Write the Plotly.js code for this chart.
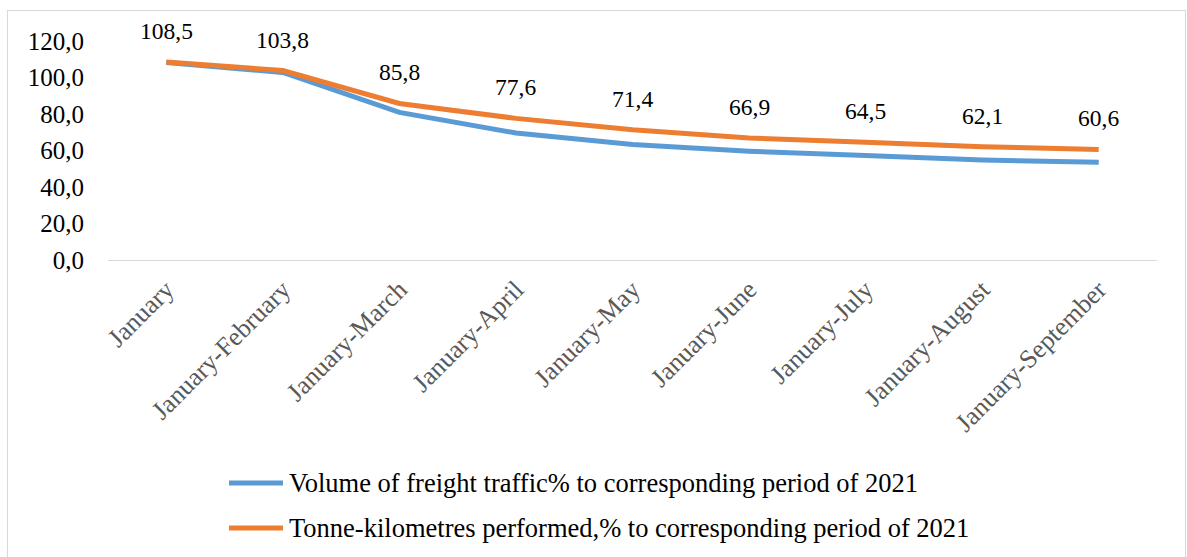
<!DOCTYPE html>
<html>
<head>
<meta charset="utf-8">
<script src="https://cdn.plot.ly/plotly-3.0.1.min.js"></script>
<style>
html,body{margin:0;padding:0;background:#fff;}
#wrap{position:relative;width:1187px;height:557px;}
#chart{width:1187px;height:557px;}
#frame{position:absolute;left:7px;top:10px;width:1177px;height:560px;border:1px solid #d9d9d9;pointer-events:none;}
</style>
</head>
<body>
<div id="wrap"><div id="chart"></div><div id="frame"></div></div>
<script>
const categories = ["January","January-February","January-March","January-April","January-May","January-June","January-July","January-August","January-September"];
const freightVolume = [108.2, 102.8, 80.9, 69.6, 63.3, 59.6, 57.2, 54.8, 53.5];
const tonneKm = [108.5, 103.8, 85.8, 77.6, 71.4, 66.9, 64.5, 62.1, 60.6];
const seriesNames = ["Volume of freight traffic% to corresponding period of 2021", "Tonne-kilometres performed,% to corresponding period of 2021"];
const seriesColors = ['#5B9BD5', '#ED7D31'];
const tonneKmLabels = tonneKm.map(v => v.toFixed(1).replace('.', ','));

const FONT = 'Liberation Serif';
const W = 1187, H = 557;
const M = {l: 108, r: 30, t: 41, b: 297};
const PW = W - M.l - M.r, PH = H - M.t - M.b;
// pixel -> paper helpers for the hand-drawn legend
const px = x => (x - M.l) / PW;
const py = y => (H - M.b - y) / PH;

const traces = [freightVolume, tonneKm].map((vals, i) => ({
  x: categories, y: vals, name: seriesNames[i], type: 'scatter', mode: 'lines',
  line: {color: seriesColors[i], width: 5}, hoverinfo: 'skip', showlegend: false
}));

const annotations = categories.map((c, i) => ({
  x: c, y: tonneKm[i], text: tonneKmLabels[i], showarrow: false,
  yshift: 31, font: {family: FONT, size: 23.5, color: '#000'}
}));

// legend (line sample + text), one row per series
const legendRows = [483, 528];
const shapes = [];
seriesNames.forEach((name, i) => {
  shapes.push({type: 'line', xref: 'paper', yref: 'paper',
    x0: px(229), x1: px(283), y0: py(legendRows[i]), y1: py(legendRows[i]),
    line: {color: seriesColors[i], width: 5}});
  annotations.push({xref: 'paper', yref: 'paper', x: px(287), y: py(legendRows[i]),
    xanchor: 'left', yanchor: 'middle', showarrow: false, text: name,
    font: {family: FONT, size: 26.5, color: '#000'}});
});

const layout = {
  width: W, height: H,
  margin: Object.assign({autoexpand: false}, M),
  paper_bgcolor: '#fff', plot_bgcolor: '#fff',
  separators: ', ',
  font: {family: FONT, color: '#000'},
  showlegend: false,
  xaxis: {type: 'category', range: [-0.5, 8.5], showgrid: false, zeroline: false,
          showline: true, linecolor: '#d9d9d9', linewidth: 1, ticks: '',
          automargin: false, ticklabelstandoff: 3,
          tickangle: -45, tickfont: {family: FONT, size: 26, color: '#595959'}},
  yaxis: {range: [0, 120], tickvals: [0, 20, 40, 60, 80, 100, 120], tickformat: '.1f',
          showgrid: false, zeroline: false, showline: false, ticks: '',
          automargin: false, ticklabelstandoff: 23,
          tickfont: {family: FONT, size: 25, color: '#000'}},
  annotations: annotations,
  shapes: shapes
};

Plotly.newPlot('chart', traces, layout, {staticPlot: true, displayModeBar: false});
</script>
</body>
</html>
